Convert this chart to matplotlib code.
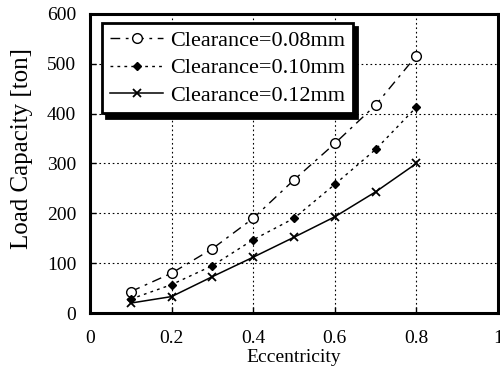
import matplotlib
matplotlib.use("Agg")
import matplotlib.pyplot as plt

plt.rcParams['font.family'] = ['Liberation Serif', 'DejaVu Serif']

ecc = [0.1, 0.2, 0.3, 0.4, 0.5, 0.6, 0.7, 0.8]
load_008 = [43, 80, 129, 190, 267, 340, 417, 516]
load_010 = [28, 57, 95, 147, 190, 258, 328, 413]
load_012 = [20, 33, 73, 112, 152, 193, 243, 300]
labels = ['Clearance=0.08mm', 'Clearance=0.10mm', 'Clearance=0.12mm']
xticks = [0, 0.2, 0.4, 0.6, 0.8, 1]
xticklabels = ['0', '0.2', '0.4', '0.6', '0.8', '1']
yticks = [0, 100, 200, 300, 400, 500, 600]

fig = plt.figure(figsize=(5, 3.74), dpi=100)
ax = fig.add_axes([0.18, 0.163, 0.816, 0.8])

ax.plot(ecc, load_008, color='black', lw=1.0, linestyle=(0, (7, 4, 2, 4)),
        marker='o', markersize=7, markerfacecolor='white', markeredgecolor='black',
        markeredgewidth=1.0, label=labels[0])
ax.plot(ecc, load_010, color='black', lw=1.0, linestyle=(0, (2, 3)),
        marker='D', markersize=4, markerfacecolor='black', markeredgecolor='black',
        label=labels[1])
ax.plot(ecc, load_012, color='black', lw=1.1, linestyle='-',
        marker='x', markersize=6, markeredgewidth=1.3, label=labels[2])

ax.set_xlim(0, 1)
ax.set_ylim(0, 600)
ax.set_xticks(xticks)
ax.set_xticklabels(xticklabels)
ax.set_yticks(yticks)
ax.tick_params(direction='in', length=4, width=1, labelsize=14, pad=10)
ax.tick_params(axis='x', pad=12)
for s in ax.spines.values():
    s.set_linewidth(2.2)

ax.grid(True, linestyle=(0, (1.5, 2.5)), color='black', lw=0.8)
ax.set_axisbelow(True)

ax.set_xlabel('Eccentricity', fontsize=14, labelpad=2)
ax.set_ylabel('Load Capacity [ton]', fontsize=18)
ax.yaxis.set_label_coords(-0.14, 0.55)

leg = ax.legend(loc='upper left', bbox_to_anchor=(0.03, 0.97), borderaxespad=0,
                fontsize=16, fancybox=False, frameon=True, edgecolor='black',
                framealpha=1, handlelength=2.4, handletextpad=0.3,
                labelspacing=0.3, borderpad=0.35,
                shadow={'color': 'black', 'alpha': 1, 'ox': 3, 'oy': -3})
leg.get_frame().set_linewidth(2)

fig.savefig('out.png', dpi=100)
